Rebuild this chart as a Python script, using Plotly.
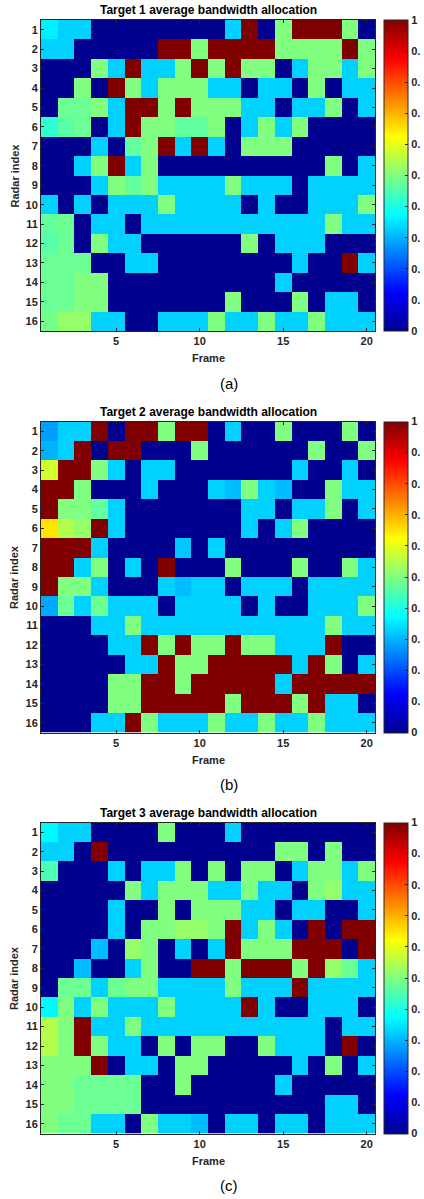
import plotly.graph_objects as go

# Average bandwidth allocation per radar (rows 1..16) and frame (columns 1..20)
frames = list(range(1, 21))
radars = list(range(1, 17))

target1 = [
    [0.36, 0.33, 0.33, 0, 0, 0, 0, 0, 0, 0, 0, 0.33, 1, 0, 0.5, 1, 1, 1, 0.5, 0],
    [0.33, 0.33, 0, 0, 0, 0, 0, 1, 1, 0.5, 1, 1, 1, 1, 0.5, 0.5, 0.5, 0.5, 1, 0.5],
    [0, 0, 0, 0.5, 0.33, 1, 0.33, 0.33, 0.5, 1, 0.5, 1, 0.5, 0.5, 0, 0.33, 0.5, 0.5, 0.33, 0.5],
    [0, 0, 0.5, 0, 1, 0.5, 0.33, 0.5, 0.5, 0.5, 0.33, 0.33, 0, 0.33, 0.33, 0, 0.5, 0, 0.33, 0.33],
    [0, 0.48, 0.48, 0.5, 0.33, 1, 1, 0.5, 1, 0.5, 0.5, 0.5, 0.33, 0.33, 0, 0.33, 0.33, 0.5, 0, 0.33],
    [0.42, 0.46, 0.48, 0, 0.33, 1, 0.5, 0.5, 0.47, 0.47, 0.5, 0, 0.33, 0.5, 0.33, 0.5, 0, 0, 0, 0],
    [0, 0, 0, 0.33, 0, 0.47, 0.5, 1, 0.33, 1, 0.33, 0, 0.5, 0.5, 0.5, 0, 0, 0, 0, 0],
    [0, 0, 0.33, 0.5, 1, 0.33, 0.5, 0, 0, 0, 0, 0, 0, 0, 0, 0, 0, 0.5, 0, 0.33],
    [0, 0, 0, 0.33, 0.5, 0.47, 0.5, 0.33, 0.33, 0.33, 0.33, 0.5, 0.33, 0.33, 0.33, 0, 0.33, 0.33, 0.33, 0.33],
    [0.33, 0, 0.33, 0, 0.33, 0.33, 0.33, 0.5, 0.33, 0.33, 0.33, 0.33, 0, 0.33, 0, 0, 0.33, 0.33, 0.33, 0.5],
    [0.47, 0.48, 0, 0.33, 0.33, 0, 0.33, 0.33, 0.33, 0.33, 0.33, 0.33, 0.33, 0.33, 0.33, 0.33, 0.33, 0.5, 0.33, 0.33],
    [0.46, 0.48, 0, 0.5, 0.33, 0.33, 0, 0, 0, 0, 0, 0, 0.5, 0, 0.33, 0.33, 0.33, 0, 0, 0],
    [0.48, 0.48, 0.48, 0, 0, 0.33, 0.33, 0, 0, 0, 0, 0, 0, 0, 0, 0.33, 0, 0, 1, 0.33],
    [0.48, 0.48, 0.5, 0.5, 0, 0, 0, 0, 0, 0, 0, 0, 0, 0, 0.33, 0, 0, 0, 0, 0],
    [0.48, 0.48, 0.5, 0.5, 0, 0, 0, 0, 0, 0, 0, 0.5, 0, 0, 0, 0.5, 0, 0.33, 0.33, 0],
    [0.49, 0.52, 0.52, 0.33, 0.33, 0, 0, 0.33, 0.33, 0.33, 0.5, 0.33, 0.33, 0.5, 0.33, 0.33, 0.5, 0.33, 0.33, 0.33],
]

target2 = [
    [0.28, 0.33, 0.33, 1, 0, 1, 1, 0.5, 1, 1, 0, 0.33, 0, 0, 0.5, 0, 0, 0, 0.5, 0],
    [0.3, 0.33, 1, 0, 1, 1, 0, 0, 0, 0.5, 0, 0, 0, 0, 0, 0, 0.5, 0, 0, 0.5],
    [0.58, 1, 1, 0.5, 0.33, 0, 0.33, 0.33, 0, 0, 0, 0, 0, 0, 0, 0.33, 0, 0, 0.33, 0],
    [1, 1, 0.5, 0, 0, 0, 0.33, 0, 0, 0, 0.33, 0.31, 0.5, 0.33, 0.31, 0, 0, 0.5, 0.33, 0.33],
    [1, 0.5, 0.5, 0.47, 0.33, 0, 0, 0, 0, 0, 0, 0, 0.33, 0.33, 0, 0.33, 0.33, 0.5, 0, 0.33],
    [0.65, 0.55, 0.52, 1, 0.33, 0, 0, 0, 0, 0, 0, 0, 0.33, 0, 0.33, 0.5, 0, 0, 0, 0],
    [1, 1, 1, 0.33, 0, 0, 0, 0, 0.32, 0, 0.33, 0, 0, 0, 0, 0, 0, 0, 0, 0],
    [1, 1, 0.33, 0.5, 0, 0.33, 0, 1, 0, 0, 0, 0.5, 0, 0, 0, 0.5, 0, 0, 0.5, 0.33],
    [1, 0.5, 0.5, 0.33, 0, 0, 0, 0.33, 0.31, 0.33, 0.33, 0, 0.33, 0.33, 0.33, 0, 0.33, 0.33, 0.33, 0.33],
    [0.29, 0.48, 0.33, 0.48, 0.33, 0.33, 0.33, 0, 0.33, 0.33, 0.33, 0.33, 0, 0.33, 0, 0, 0.33, 0.33, 0.33, 0.5],
    [0, 0, 0, 0.33, 0.33, 0.5, 0.33, 0.33, 0.33, 0.33, 0.33, 0.33, 0.33, 0.33, 0.33, 0.33, 0.33, 0.5, 0.33, 0.33],
    [0, 0, 0, 0, 0.33, 0.33, 1, 0.5, 1, 0.5, 0.5, 1, 0.5, 0.5, 0.33, 0.33, 0.33, 1, 0, 0],
    [0, 0, 0, 0, 0, 0.33, 0.33, 1, 0.5, 0.5, 1, 1, 1, 1, 1, 0.33, 1, 0.5, 0, 0.33],
    [0, 0, 0, 0, 0.5, 0.5, 1, 1, 0.5, 1, 1, 1, 1, 1, 0.33, 1, 1, 1, 1, 1],
    [0, 0, 0, 0, 0.5, 0.5, 1, 1, 1, 1, 1, 0.5, 1, 1, 1, 0.5, 1, 0.33, 0.33, 0],
    [0, 0, 0, 0.33, 0.33, 1, 0.5, 0.33, 0.33, 0.33, 0.5, 0.33, 0.33, 0.5, 0.33, 0.33, 0.5, 0.33, 0.33, 0.33],
]

target3 = [
    [0.37, 0.33, 0.33, 0, 0, 0, 0, 0.5, 0, 0, 0, 0.33, 0, 0, 0, 0, 0, 0, 0, 0],
    [0.33, 0.33, 0, 1, 0, 0, 0, 0, 0, 0, 0, 0, 0, 0, 0.5, 0.5, 0, 0.5, 0, 0],
    [0.45, 0, 0, 0, 0.33, 0, 0.33, 0.33, 0.5, 0, 0.5, 0, 0.5, 0.5, 0, 0.33, 0.5, 0.5, 0.33, 0.5],
    [0, 0, 0, 0, 0, 0.5, 0.33, 0.5, 0.5, 0.5, 0.33, 0.33, 0.5, 0.33, 0.33, 0, 0.5, 0.52, 0.33, 0.33],
    [0, 0, 0, 0, 0.33, 0, 0, 0.5, 0, 0.5, 0.5, 0.5, 0.33, 0.33, 0, 0.33, 0.33, 0, 0, 0.33],
    [0, 0, 0, 0, 0.33, 0, 0.5, 0.5, 0.52, 0.52, 0.5, 1, 0.33, 0.5, 0.33, 0, 1, 0, 1, 1],
    [0, 0, 0, 0.31, 0, 0.52, 0.5, 0, 0.33, 0, 0.33, 1, 0.5, 0.5, 0.5, 1, 1, 1, 0, 1],
    [0, 0, 0.31, 0, 0, 0.33, 0.5, 0, 0, 1, 1, 0.5, 1, 1, 1, 0.5, 1, 0.52, 0.48, 0.33],
    [0, 0.48, 0.48, 0.33, 0.48, 0.5, 0.5, 0.33, 0.33, 0.33, 0.33, 0.5, 0.33, 0.33, 0.33, 1, 0.33, 0.33, 0.33, 0.33],
    [0.37, 0.5, 0.33, 0.5, 0.33, 0.33, 0.33, 0.5, 0.33, 0.33, 0.33, 0.33, 1, 0.33, 0, 0, 0.33, 0.33, 0.33, 0],
    [0.55, 0.5, 1, 0.33, 0.33, 0.5, 0.33, 0.33, 0.33, 0.33, 0.33, 0.33, 0.33, 0.33, 0.33, 0.33, 0.33, 0, 0.33, 0.33],
    [0.55, 0.5, 1, 0.5, 0.33, 0.33, 0, 0.5, 0, 0.5, 0.5, 0, 0, 0.5, 0.33, 0.33, 0.33, 0, 1, 0],
    [0.5, 0.5, 0.5, 1, 0, 0.33, 0.33, 0, 0.5, 0.5, 0, 0, 0, 0, 0, 0.33, 0, 0.5, 0, 0.33],
    [0.5, 0.5, 0.48, 0.48, 0.48, 0.48, 0, 0, 0.5, 0, 0, 0, 0, 0, 0.33, 0, 0, 0, 0, 0],
    [0.5, 0.5, 0.48, 0.48, 0.48, 0.48, 0, 0, 0, 0, 0, 0, 0, 0, 0, 0, 0, 0.33, 0.33, 0],
    [0.5, 0.48, 0.48, 0.33, 0.33, 0, 0.5, 0.33, 0.33, 0.31, 0, 0.33, 0.33, 0, 0.33, 0.33, 0, 0.33, 0.33, 0.33],
]

panel_titles = [
    "Target 1 average bandwidth allocation",
    "Target 2 average bandwidth allocation",
    "Target 3 average bandwidth allocation",
]
panel_tags = ["(a)", "(b)", "(c)"]
x_ticks = [5, 10, 15, 20]
cbar_ticks = [0, 0.1, 0.2, 0.3, 0.4, 0.5, 0.6, 0.7, 0.8, 0.9, 1]
cbar_labels = ["0", "0.", "0.", "0.", "0.", "0.", "0.", "0.", "0.", "0.", "1"]

# MATLAB-style jet colormap
jet = [
    [0.0, "rgb(0,0,143)"],
    [0.125, "rgb(0,0,255)"],
    [0.375, "rgb(0,255,255)"],
    [0.625, "rgb(255,255,0)"],
    [0.875, "rgb(255,0,0)"],
    [1.0, "rgb(128,0,0)"],
]

W, H = 424, 1199
INK = "#262626"
FONT = "Liberation Sans, Arial, sans-serif"

# Pixel layout of each panel (top edge of the plot area)
plot_left, plot_right = 41, 375
plot_h = 311
plot_tops = [20, 421.5, 822.5]
cbar_left, cbar_w = 384, 24


def py(px):
    return 1 - px / H


def label(text, x_px, y_px, size, color=INK, weight="bold", angle=0):
    fig.add_annotation(
        text=text, xref="paper", yref="paper",
        x=x_px / W, y=py(y_px), xanchor="center", yanchor="middle",
        showarrow=False, textangle=angle,
        font=dict(family=FONT, size=size, color=color, weight=weight),
    )


fig = go.Figure()
data_sets = [target1, target2, target3]

for i, (z, top) in enumerate(zip(data_sets, plot_tops)):
    n = "" if i == 0 else str(i + 1)
    xa, ya = "x" + n, "y" + n
    bottom = top + plot_h
    fig.add_trace(go.Heatmap(
        z=z, x=frames, y=radars, xaxis=xa, yaxis=ya,
        zmin=0, zmax=1, colorscale=jet,
        colorbar=dict(
            x=cbar_left / W, xanchor="left", xpad=0, ypad=0,
            y=py(top + plot_h / 2), yanchor="middle",
            len=plot_h, lenmode="pixels",
            thickness=cbar_w, thicknessmode="pixels",
            outlinewidth=1, outlinecolor=INK,
            tickmode="array", tickvals=cbar_ticks, ticktext=cbar_labels,
            ticks="inside", ticklen=3, tickcolor=INK,
            tickfont=dict(family=FONT, size=11, color=INK, weight="bold"),
        ),
    ))
    axis_common = dict(
        showline=True, linecolor=INK, linewidth=1, mirror="ticks",
        ticks="inside", ticklen=3, tickcolor=INK, showgrid=False, zeroline=False,
        tickfont=dict(family=FONT, size=11, color=INK, weight="bold"),
    )
    fig.update_layout({
        ("xaxis" + n): dict(
            domain=[plot_left / W, plot_right / W], anchor=ya,
            range=[0.5, 20.5], tickmode="array", tickvals=x_ticks, **axis_common,
        ),
        ("yaxis" + n): dict(
            domain=[py(bottom), py(top)], anchor=xa,
            range=[16.5, 0.5], tickmode="array", tickvals=radars, **axis_common,
        ),
    })
    cx = (plot_left + plot_right) / 2
    label(panel_titles[i], cx, top - 10, 12, color="#000000")
    label("Frame", cx, bottom + 27, 11)
    label("Radar index", 14, top + plot_h / 2, 11, angle=-90)
    label(panel_tags[i], 229, bottom + 52, 15, color="#000000", weight="normal")

fig.update_layout(
    width=W, height=H,
    margin=dict(l=0, r=0, t=0, b=0, autoexpand=False),
    paper_bgcolor="white", plot_bgcolor="white",
    showlegend=False,
)

fig.write_html("out.html")
